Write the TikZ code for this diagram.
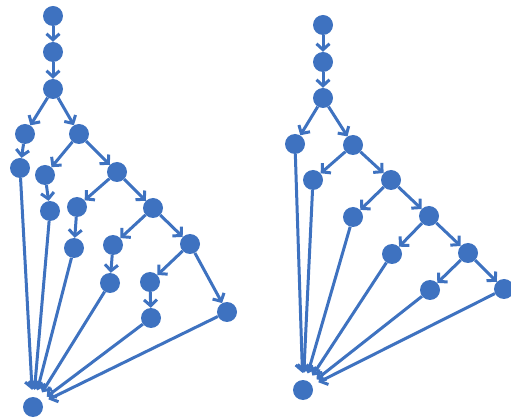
\documentclass[tikz,border=0pt]{standalone}
\usetikzlibrary{arrows.meta}
\definecolor{nodeblue}{RGB}{62,114,192}
\begin{document}
\begin{tikzpicture}[x=1pt, y=-1pt,
  dot/.style={circle, fill=nodeblue, minimum size=20pt, inner sep=0pt},
  link/.style={nodeblue, line width=3pt, -{Straight Barb[length=6pt, width=13pt]}},
  tosink/.style={link, shorten >=7pt}]
  \useasboundingbox (0,0) rectangle (511,419);
  % left graph
  \node[dot] (l1) at (53,16) {};
  \node[dot] (l2) at (53,52) {};
  \node[dot] (l3) at (53,89) {};
  \node[dot] (l4) at (25,134) {};
  \node[dot] (l5) at (79,134) {};
  \node[dot] (l6) at (20,168) {};
  \node[dot] (l7) at (45,175) {};
  \node[dot] (l8) at (117,172) {};
  \node[dot] (l9) at (50,211) {};
  \node[dot] (l10) at (77,207) {};
  \node[dot] (l11) at (153,208) {};
  \node[dot] (l12) at (74,248) {};
  \node[dot] (l13) at (113,245) {};
  \node[dot] (l14) at (190,244) {};
  \node[dot] (l15) at (110,283) {};
  \node[dot] (l16) at (150,282) {};
  \node[dot] (l17) at (227,312) {};
  \node[dot] (l18) at (151,318) {};
  \node[dot] (ls) at (33,407) {};
  \draw[link] (l1) -- (l2);
  \draw[link] (l2) -- (l3);
  \draw[link] (l3) -- (l4);
  \draw[link] (l3) -- (l5);
  \draw[link] (l4) -- (l6);
  \draw[link] (l5) -- (l7);
  \draw[link] (l5) -- (l8);
  \draw[link] (l7) -- (l9);
  \draw[link] (l8) -- (l10);
  \draw[link] (l8) -- (l11);
  \draw[link] (l10) -- (l12);
  \draw[link] (l11) -- (l13);
  \draw[link] (l11) -- (l14);
  \draw[link] (l13) -- (l15);
  \draw[link] (l14) -- (l16);
  \draw[link] (l14) -- (l17);
  \draw[link] (l16) -- (l18);
  % into the sink
  \draw[tosink] (l6) -- (ls);
  \draw[tosink] (l9) -- (ls);
  \draw[tosink] (l12) -- (ls);
  \draw[tosink] (l15) -- (ls);
  \draw[tosink] (l18) -- (ls);
  \draw[tosink] (l17) -- (ls);
  % right graph
  \node[dot] (r1) at (323,25) {};
  \node[dot] (r2) at (323,62) {};
  \node[dot] (r3) at (323,98) {};
  \node[dot] (r4) at (295,144) {};
  \node[dot] (r5) at (353,145) {};
  \node[dot] (r6) at (313,180) {};
  \node[dot] (r7) at (391,180) {};
  \node[dot] (r8) at (353,217) {};
  \node[dot] (r9) at (429,216) {};
  \node[dot] (r10) at (392,254) {};
  \node[dot] (r11) at (468,253) {};
  \node[dot] (r12) at (430,290) {};
  \node[dot] (r13) at (504,289) {};
  \node[dot] (rs) at (303,390) {};
  \draw[link] (r1) -- (r2);
  \draw[link] (r2) -- (r3);
  \draw[link] (r3) -- (r4);
  \draw[link] (r3) -- (r5);
  \draw[link] (r5) -- (r6);
  \draw[link] (r5) -- (r7);
  \draw[link] (r7) -- (r8);
  \draw[link] (r7) -- (r9);
  \draw[link] (r9) -- (r10);
  \draw[link] (r9) -- (r11);
  \draw[link] (r11) -- (r12);
  \draw[link] (r11) -- (r13);
  % into the sink
  \draw[tosink] (r4) -- (rs);
  \draw[tosink] (r6) -- (rs);
  \draw[tosink] (r8) -- (rs);
  \draw[tosink] (r10) -- (rs);
  \draw[tosink] (r12) -- (rs);
  \draw[tosink] (r13) -- (rs);
\end{tikzpicture}
\end{document}
